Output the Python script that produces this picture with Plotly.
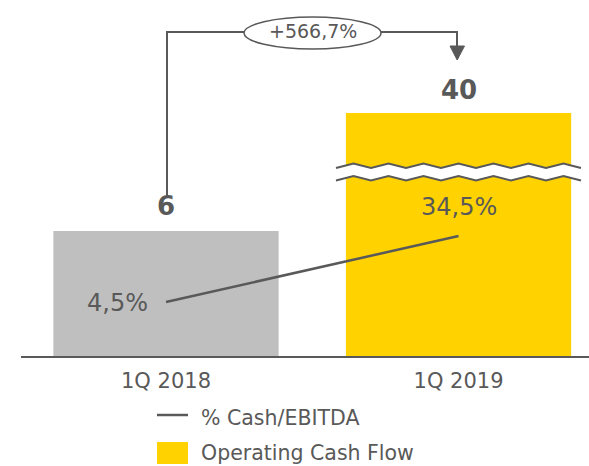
import plotly.graph_objects as go

# ---- data ----
categories = ["1Q 2018", "1Q 2019"]
cash_flow = [6, 40]
cash_ebitda_pct = [4.5, 34.5]
growth_label = "+566,7%"
series_names = ["% Cash/EBITDA", "Operating Cash Flow"]
bar_colors = ["#BFBFBF", "#FFD200"]

TEXT = "#595959"
FONT = "DejaVu Sans"

W, H = 589, 466
L, R, T, B = 21, 0, 113, 110
PW = W - L - R
PH = H - T - B


def px(x):
    return (x - L) / PW


def py(y):
    return (H - B - y) / PH


def pct(v):
    return f"{v:.1f}".replace(".", ",") + "%"


fig = go.Figure()
fig.add_trace(go.Bar(
    x=categories, y=cash_flow, marker_color=bar_colors, marker_line_width=0,
    width=0.77, showlegend=False, hoverinfo="skip",
))
fig.add_trace(go.Scatter(
    x=categories, y=cash_ebitda_pct, yaxis="y2", mode="lines",
    line=dict(color=TEXT, width=2.5), showlegend=False, hoverinfo="skip",
))

unit_px = 125 / cash_flow[0]
fig.update_layout(
    width=W, height=H,
    margin=dict(l=L, r=R, t=T, b=B, pad=0),
    paper_bgcolor="white", plot_bgcolor="white",
    font=dict(family=FONT, color=TEXT),
    xaxis=dict(type="category", range=[-0.4957, 1.446], showgrid=False,
               showline=True, linecolor=TEXT, linewidth=2, ticks="",
               ticklabelstandoff=5,
               tickfont=dict(size=21, color=TEXT, family=FONT)),
    yaxis=dict(range=[0, PH / unit_px], visible=False, showgrid=False, zeroline=False),
    yaxis2=dict(range=[-20.05, 90.4], overlaying="y", visible=False,
                showgrid=False, zeroline=False),
)

shapes = []
# wavy break on tall bar
xs = [336 + 17.5 * i for i in range(15)]
up = [(x, 168 if i % 2 == 0 else 163.5) for i, x in enumerate(xs)]
lo = [(x, y + 12.5) for x, y in up]
band = "M " + " L ".join(f"{px(x)},{py(y)}" for x, y in up + lo[::-1]) + " Z"
shapes.append(dict(type="path", xref="paper", yref="paper", path=band,
                   fillcolor="white", line=dict(width=0)))
for pts in (up, lo):
    shapes.append(dict(type="path", xref="paper", yref="paper",
                       path="M " + " L ".join(f"{px(x)},{py(y)}" for x, y in pts),
                       line=dict(color=TEXT, width=2)))
# growth bracket
shapes.append(dict(type="path", xref="paper", yref="paper",
                   path=f"M {px(167)},{py(196)} L {px(167)},{py(32)} L {px(457)},{py(32)} L {px(457)},{py(47)}",
                   line=dict(color=TEXT, width=2)))
shapes.append(dict(type="path", xref="paper", yref="paper",
                   path=f"M {px(450)},{py(46)} L {px(464.5)},{py(46)} L {px(457.2)},{py(60)} Z",
                   fillcolor=TEXT, line=dict(color=TEXT, width=1)))
shapes.append(dict(type="circle", xref="paper", yref="paper",
                   x0=px(244), x1=px(381), y0=py(49), y1=py(17),
                   fillcolor="white", line=dict(color=TEXT, width=1.5)))
# legend markers
shapes.append(dict(type="line", xref="paper", yref="paper",
                   x0=px(157), x1=px(188), y0=py(415), y1=py(415),
                   line=dict(color=TEXT, width=2.5)))
shapes.append(dict(type="rect", xref="paper", yref="paper",
                   x0=px(157), x1=px(188), y0=py(464), y1=py(442),
                   fillcolor=bar_colors[1], line=dict(width=0)))

ann = []
ann.append(dict(x=categories[0], y=cash_flow[0], xref="x", yref="y",
                text=f"<b>{cash_flow[0]}</b>", showarrow=False, yanchor="middle",
                yshift=25, font=dict(size=26, color=TEXT)))
ann.append(dict(x=categories[1], y=1, xref="x", yref="paper",
                text=f"<b>{cash_flow[1]}</b>", showarrow=False, yanchor="middle",
                yshift=23, font=dict(size=26, color=TEXT)))
ann.append(dict(x=categories[0], y=cash_ebitda_pct[0], xref="x", yref="y2",
                text=pct(cash_ebitda_pct[0]), showarrow=False, xanchor="right",
                yanchor="middle", xshift=-16, yshift=-1.5, font=dict(size=24, color=TEXT)))
ann.append(dict(x=categories[1], y=cash_ebitda_pct[1], xref="x", yref="y2",
                text=pct(cash_ebitda_pct[1]), showarrow=False, yanchor="middle",
                yshift=29, font=dict(size=24, color=TEXT)))
ann.append(dict(x=px(312.5), y=py(31), xref="paper", yref="paper",
                xanchor="center", yanchor="middle",
                text=growth_label, showarrow=False, font=dict(size=19, color=TEXT)))
ann.append(dict(x=px(199), y=py(418), xref="paper", yref="paper", xanchor="left",
                yanchor="middle",
                text=series_names[0], showarrow=False, font=dict(size=20.5, color=TEXT)))
ann.append(dict(x=px(199), y=py(453), xref="paper", yref="paper", xanchor="left",
                yanchor="middle",
                text=series_names[1], showarrow=False, font=dict(size=20.5, color=TEXT)))

fig.update_layout(shapes=shapes, annotations=ann)
fig.write_html("out.html", config={"displayModeBar": False},
               post_script="document.body.style.margin='0px';")
